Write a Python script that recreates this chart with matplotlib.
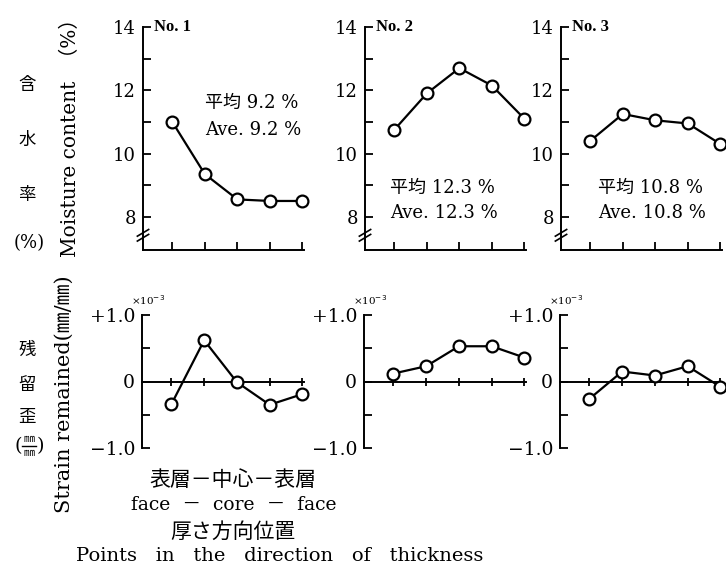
import matplotlib
matplotlib.use('Agg')
import matplotlib.pyplot as plt
from matplotlib.lines import Line2D

# thickness positions: face - core - face
positions = [1, 2, 3, 4, 5]

# moisture content (%)
moist_1 = [11.0, 9.35, 8.55, 8.5, 8.5]
moist_2 = [10.75, 11.9, 12.7, 12.15, 11.1]
moist_3 = [10.4, 11.25, 11.05, 10.95, 10.3]

# strain remained (x10^-3 mm/mm)
strain_1 = [-0.34, 0.62, -0.01, -0.35, -0.19]
strain_2 = [0.12, 0.23, 0.53, 0.53, 0.36]
strain_3 = [-0.26, 0.15, 0.09, 0.23, -0.08]

sample_names = ['No. 1', 'No. 2', 'No. 3']
averages = ['9.2', '12.3', '10.8']

moist_ticks = [8, 10, 12, 14]
moist_minor = [9, 11, 13]
strain_ticks = [-1.0, 0, 1.0]
strain_tick_labels = ['\u22121.0', '0', '+1.0']
strain_minor = [-0.5, 0.5]

SERIF = ['DejaVu Serif', 'Noto Sans CJK JP']
CJK = ['Noto Sans CJK JP', 'DejaVu Serif']

W, H = 726, 568
fig = plt.figure(figsize=(W / 100, H / 100), dpi=100)


def px_axes(left, top, width, bottom):
    # axes rectangle given in pixel coordinates of the picture
    return fig.add_axes([left / W, 1 - bottom / H, width / W, (bottom - top) / H])


def fig_text(x, y, s, **kw):
    fig.text(x / W, 1 - y / H, s, ha='center', va='center', **kw)


lefts = [143, 365, 561]
panel_w = 161
moist_data = [moist_1, moist_2, moist_3]
strain_data = [strain_1, strain_2, strain_3]
note_pos = [(0.385, 0.659, 0.538), (0.155, 0.278, 0.166), (0.23, 0.278, 0.166)]

for i in range(3):
    # ---- moisture content panels
    ax = px_axes(lefts[i], 27, panel_w, 250)
    ax.plot(positions, moist_data[i], color='black', lw=1.6, marker='o',
            ms=8.5, mfc='white', mec='black', mew=1.6, clip_on=False, zorder=3)
    ax.set_xlim(0.1, 5.05)
    ax.set_ylim(6.95, 14)
    ax.spines['top'].set_visible(False)
    ax.spines['right'].set_visible(False)
    for s in ['left', 'bottom']:
        ax.spines[s].set_linewidth(1.4)
    ax.set_xticks(positions)
    ax.set_xticklabels([])
    ax.set_yticks(moist_ticks)
    ax.set_yticklabels([str(t) for t in moist_ticks], family=SERIF, fontsize=13)
    ax.set_yticks(moist_minor, minor=True)
    ax.tick_params(axis='both', which='both', direction='in', length=6,
                   width=1.3, pad=5)
    ax.patch.set_alpha(0)
    # axis break mark
    for dy in [0.0, 0.022]:
        ax.plot([-0.035, 0.035], [0.04 + dy, 0.07 + dy], color='black', lw=1.2,
                transform=ax.transAxes, clip_on=False)
    ax.text(0.07, 1.0, sample_names[i], transform=ax.transAxes, ha='left',
            va='center', fontsize=12, fontweight='bold', family='Liberation Serif')
    nx, ny1, ny2 = note_pos[i]
    ax.text(nx, ny1, '平均 ' + averages[i] + ' %', transform=ax.transAxes,
            ha='left', va='center', fontsize=13, family=SERIF)
    ax.text(nx, ny2, 'Ave. ' + averages[i] + ' %', transform=ax.transAxes,
            ha='left', va='center', fontsize=13, family=SERIF)

    # ---- residual strain panels
    bx = px_axes(lefts[i] - 1, 315, panel_w + 1, 448)
    bx.plot(positions, strain_data[i], color='black', lw=1.6, marker='o',
            ms=8.5, mfc='white', mec='black', mew=1.6, clip_on=False, zorder=3)
    bx.set_xlim(0.1, 5.05)
    bx.set_ylim(-1, 1)
    bx.spines['top'].set_visible(False)
    bx.spines['right'].set_visible(False)
    bx.spines['bottom'].set_position(('data', 0))
    for s in ['left', 'bottom']:
        bx.spines[s].set_linewidth(1.4)
    bx.set_xticks(positions)
    bx.set_xticklabels([])
    bx.tick_params(axis='x', direction='inout', length=6, width=1.3)
    bx.set_yticks(strain_ticks)
    bx.set_yticklabels(strain_tick_labels, family=SERIF, fontsize=13.5)
    bx.set_yticks(strain_minor, minor=True)
    bx.tick_params(axis='y', which='both', direction='in', length=6,
                   width=1.3, pad=5)
    bx.patch.set_alpha(0)
    bx.text(-0.07, 1.11, '\u00d710$^{-3}$', transform=bx.transAxes, ha='left',
            va='center', fontsize=7.5, family='DejaVu Serif')

# ---- left side labels
for ch, y in zip(['含', '水', '率'], [85, 140, 195]):
    fig_text(27, y, ch, fontsize=12.5, family=CJK)
fig_text(29, 243, '(%)', fontsize=13, family=SERIF)
fig_text(70, 133, 'Moisture content  （%）', rotation=90, fontsize=14.5,
         family=SERIF)

for ch, y in zip(['残', '留', '歪'], [350, 385, 417]):
    fig_text(27, y, ch, fontsize=12.5, family=CJK)
fig_text(18, 446, '(', fontsize=14, family=SERIF)
fig_text(40, 446, ')', fontsize=14, family=SERIF)
fig_text(29, 439, '㎜', fontsize=8, family=CJK)
fig_text(29, 453, '㎜', fontsize=8, family=CJK)
fig.add_artist(Line2D([22 / W, 36 / W], [1 - 446 / H, 1 - 446 / H],
                      color='black', lw=1.0))
fig_text(64, 394, 'Strain remained(㎜/㎜)', rotation=90, fontsize=15,
         family=SERIF)

# ---- bottom text
fig_text(233, 480, '表層－中心－表層', fontsize=15, family=CJK)
fig_text(234, 505, 'face  －  core  －  face', fontsize=13.5, family=SERIF)
fig_text(233, 532, '厚さ方向位置', fontsize=15, family=CJK)
fig_text(280, 556, 'Points   in   the   direction   of   thickness',
         fontsize=14, family=SERIF)

fig.savefig('out.png', dpi=100)
